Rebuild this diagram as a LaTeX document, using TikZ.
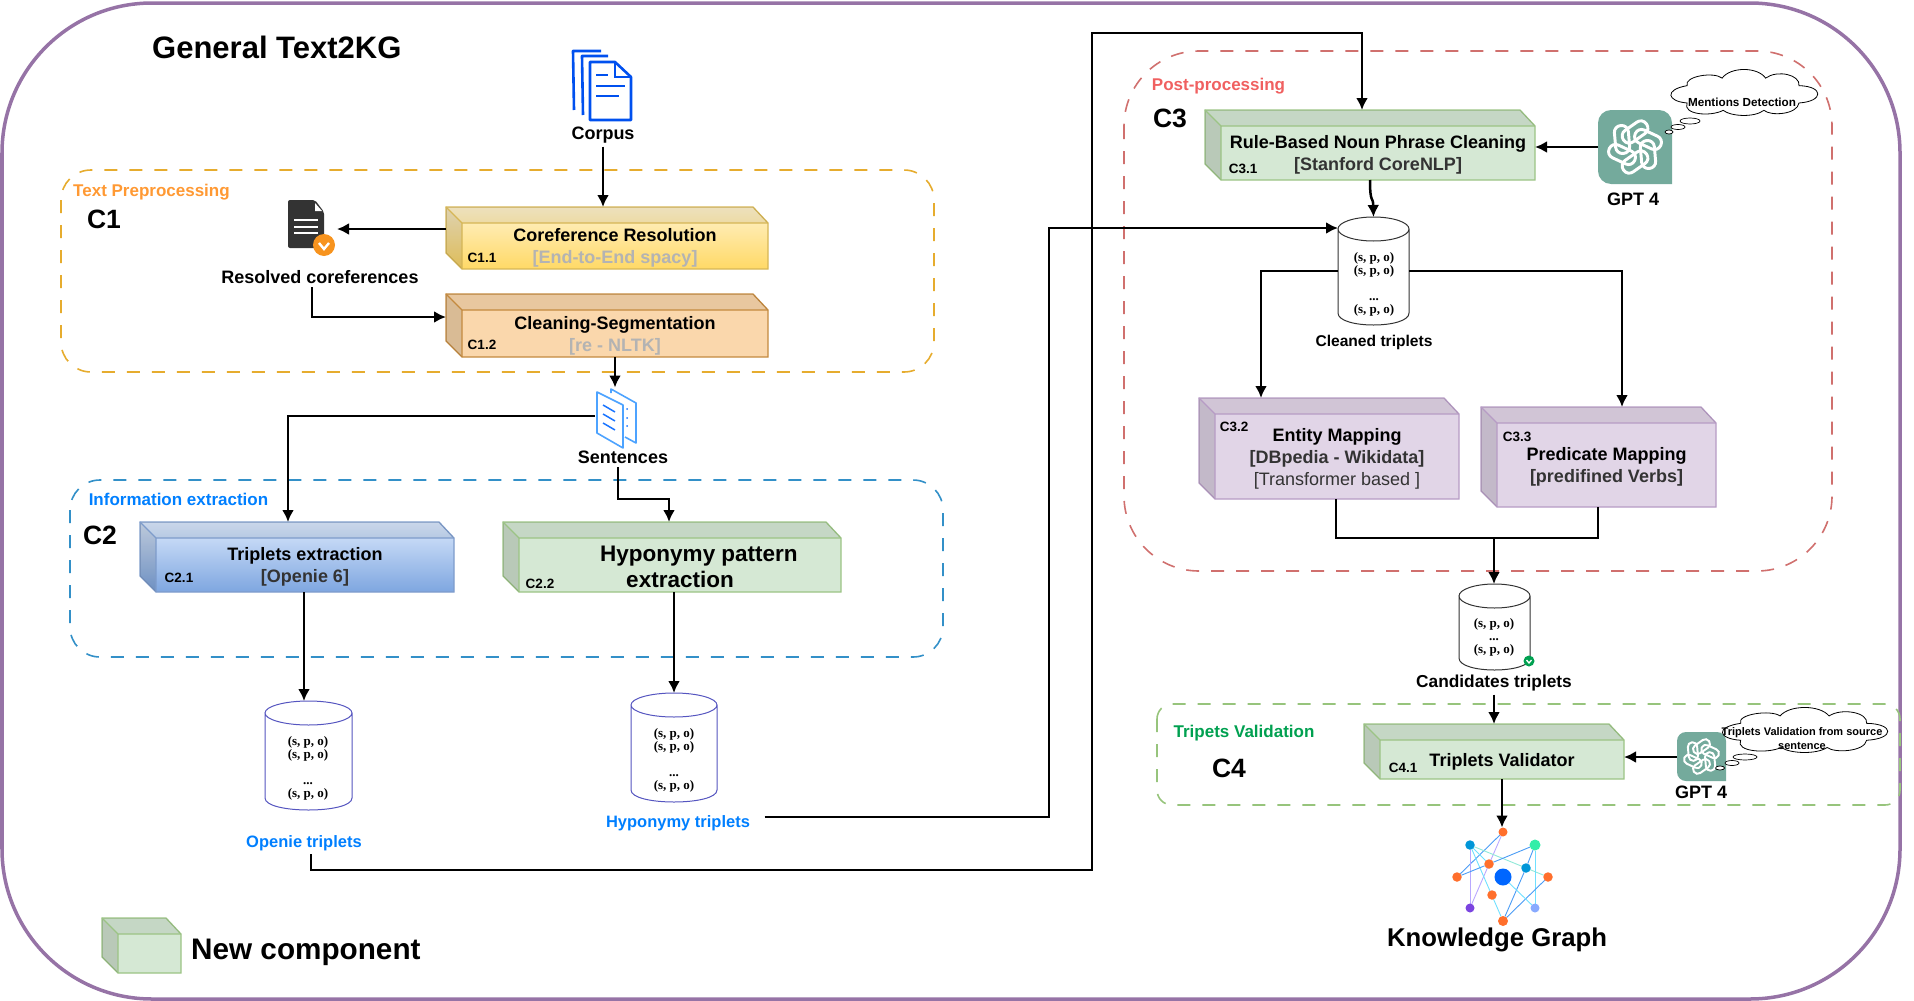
\documentclass[tikz,border=0pt]{standalone}
\usepackage{fontspec}
\setmainfont{Liberation Sans}
\newfontfamily\spofont{Liberation Serif}
\usepackage{xcolor}
\usepackage{tikz}
\usetikzlibrary{calc,arrows.meta,backgrounds}

\definecolor{outerline}{HTML}{9673A6}
\definecolor{yelline}{HTML}{D6B656}
\definecolor{orgline}{HTML}{C48A3F}
\definecolor{bluline}{HTML}{7E9CCB}
\definecolor{grnline}{HTML}{9CC485}
\definecolor{purline}{HTML}{B79CC5}
\definecolor{yeltop}{HTML}{FFF2CC}
\definecolor{yelbot}{HTML}{FFD966}
\definecolor{orgfill}{HTML}{FAD7AC}
\definecolor{blutop}{HTML}{DAE8FC}
\definecolor{blubot}{HTML}{7EA6E0}
\definecolor{grnfill}{HTML}{D5E8D4}
\definecolor{purfill}{HTML}{E1D5E7}
\definecolor{greytxt}{HTML}{B3B3B3}
\definecolor{darktxt}{HTML}{333333}
\definecolor{gptgreen}{HTML}{74AA9C}
\definecolor{docblue}{HTML}{0050EF}
\definecolor{sentblue}{HTML}{4DA3FF}
\definecolor{sentline}{HTML}{1A75FF}
\definecolor{cylblue}{HTML}{5555C0}
\definecolor{grpA}{HTML}{E6AC2E}
\definecolor{grpB}{HTML}{3390C8}
\definecolor{grpC}{HTML}{D0706E}
\definecolor{grpD}{HTML}{97C47C}
\definecolor{txtA}{HTML}{FF9933}
\definecolor{txtB}{HTML}{007FFF}
\definecolor{txtC}{HTML}{F06060}
\definecolor{txtD}{HTML}{00A050}
\definecolor{orgmark}{HTML}{F7931E}
\definecolor{kblue}{HTML}{4A9CF5}
\definecolor{kpur}{HTML}{B8A8FF}
\definecolor{kcyan}{HTML}{70E0FF}
\definecolor{kaqua}{HTML}{90E8D8}
\definecolor{korg}{HTML}{FF6F2C}
\definecolor{ksky}{HTML}{0096D8}
\definecolor{kmint}{HTML}{33EEA8}
\definecolor{kdeep}{HTML}{0066FF}
\definecolor{kviol}{HTML}{7B44E0}
\definecolor{kpale}{HTML}{88AAFF}

\tikzset{
  cubeyel/.style={top color=yeltop,bottom color=yelbot,draw=yelline},
  cubeorg/.style={fill=orgfill,draw=orgline},
  cubeblu/.style={top color=blutop,bottom color=blubot,draw=bluline},
  cubegrn/.style={fill=grnfill,draw=grnline},
  cubepur/.style={fill=purfill,draw=purline},
  cubetxt/.style={inner sep=0pt,align=center,yshift=-2pt,font=\bfseries\fontsize{18}{22}\selectfont},
  lab/.style={font=\bfseries\fontsize{18}{22}\selectfont},
  tag/.style={inner sep=0pt,font=\bfseries\fontsize{13.5}{15}\selectfont},
  part/.style={inner sep=0pt,font=\bfseries\fontsize{26.5}{30}\selectfont},
  grouplab/.style={inner sep=0pt,font=\bfseries\fontsize{17}{20}\selectfont},
  group/.style={line width=1.6pt,dash pattern=on 13pt off 12pt},
  spo/.style={inner sep=0pt,align=center,font=\spofont\bfseries\fontsize{13}{13}\selectfont},
  conn/.style={-{Latex[length=12pt,width=12pt]},line width=2.5pt},
  link/.style={line width=.9pt},
  knot/.style={circle,inner sep=0pt,outer sep=0pt}
}

\newcommand{\cubebox}[7]{%
  \path[cube#6,line width=1.3pt] (#2,#3)--(#4-15,#3)--(#4,#3+16)--(#4,#5)--(#2+16,#5)--(#2,#5-16)--cycle;
  \fill[black,opacity=.07] (#2,#3)--(#4-15,#3)--(#4,#3+16)--(#2+16,#3+16)--cycle;
  \fill[black,opacity=.13] (#2,#3)--(#2+16,#3+16)--(#2+16,#5)--(#2,#5-16)--cycle;
  \draw[#6line,line width=1.3pt] (#2,#3)--(#2+16,#3+16)--(#4,#3+16) (#2+16,#3+16)--(#2+16,#5);
  \node[inner sep=0pt,outer sep=0pt,minimum width={#4-#2},minimum height={#5-#3}] (#1) at ({(#2+#4)/2},{(#3+#5)/2}) {};
  \node[cubetxt] (#1f) at ({(#2+16+#4)/2},{(#3+16+#5)/2}) {#7};
}

\newcommand{\gptbox}[6]{%
  \fill[gptgreen] (#2,{(#3+#5)/2}) [rounded corners=#6] --(#2,#3)--(#4,#3)--(#4,{(#3+#5)/2}) [sharp corners] --(#4,#5) [rounded corners=#6] --(#2,#5)--cycle;
  \node[inner sep=0pt,outer sep=0pt,minimum width={#4-#2},minimum height={#5-#3}] (#1) at ({(#2+#4)/2},{(#3+#5)/2}) {};
  \foreach \a in {0,60,...,300}
   {\begin{scope}[shift={(#1.center)},rotate=\a,scale={(#4-#2)/74},shift={(0,-15)},rotate=35]
    \draw[white,line width={.04*(#4-#2)},rounded corners={.09*(#4-#2)}] (-14,-7)--(14,-7)--(14,7)--(-14,7)--cycle;
    \end{scope}
   };
}

\newcommand{\thought}[4]{%
  \begin{scope}[shift={(#1,#2)},x=#3pt,y=-#4pt]
  \draw[fill=white,line width=.8pt] (.133,.708) .. controls (0,.674) and (-.02,.43) .. (.133,.347)
    .. controls (.11,.153) and (.31,.05) .. (.365,.19)
    .. controls (.42,-.05) and (.6,-.05) .. (.653,.19)
    .. controls (.73,.01) and (.885,.12) .. (.874,.347)
    .. controls (1.04,.36) and (1.04,.674) .. (.874,.708)
    .. controls (.863,.95) and (.686,.986) .. (.642,.861)
    .. controls (.575,1.02) and (.42,.986) .. (.372,.861)
    .. controls (.288,1) and (.1,.95) .. (.133,.708)--cycle;
  \end{scope}
}

\newcommand{\tripledb}[6]{%
  \draw[#6,fill=white,line width=1pt] (#2-#4/2,#3-#5/2+12)--(#2-#4/2,#3+#5/2-12) .. controls (#2-#4/2,#3+#5/2+4) and (#2+#4/2,#3+#5/2+4) .. (#2+#4/2,#3+#5/2-12)--(#2+#4/2,#3-#5/2+12)
    (#2,#3-#5/2+12) ellipse ({#4/2} and 12);
  \node[inner sep=0pt,outer sep=0pt,minimum width=#4 pt,minimum height=#5 pt] (#1) at (#2,#3) {};
}

\begin{document}
\begin{tikzpicture}[x=1pt,y=-1pt]
\useasboundingbox (0,0) rectangle (1914,1001);
\draw[outerline,line width=3.5pt,rounded corners=150pt] (2,3) rectangle (1900,999);
\node[anchor=west,inner sep=0pt,font=\bfseries\fontsize{31}{34}\selectfont] (title) at (152,47) {General Text2KG};

% groups
\draw[group,draw=grpA,rounded corners=30pt] (61,170) rectangle (934,372);
\draw[group,draw=grpB,rounded corners=30pt] (70,480) rectangle (943,657);
\draw[group,draw=grpC,rounded corners=75pt] (1124,51) rectangle (1832,571);
\draw[group,draw=grpD,rounded corners=15pt] (1157,704) rectangle (1900,805);
\node[grouplab,text=txtA] (labA) at (151.5,192.5) {Text Preprocessing};
\node[grouplab,text=txtB] (labB) at (178.5,499) {Information extraction};
\node[grouplab,text=txtC] (labC) at (1218.5,86) {Post-processing};
\node[grouplab,text=txtD] (labD) at (1244,733) {Tripets Validation};
\node[part] (partA) at (104,219) {C1};
\node[part] (partB) at (100,535) {C2};
\node[part] (partC) at (1170,118) {C3};
\node[part] (partD) at (1229,768) {C4};

% corpus icon
\draw[docblue,line width=2.6pt,line join=round] (574,110)--(573,51)--(601,51);
\draw[docblue,line width=2.6pt,line join=round] (583,115)--(582,56)--(608,56);
\draw[docblue,line width=2.6pt,line join=round,fill=white] (590,62)--(615,62)--(631,77)--(631,120)--(590,120)--cycle;
\draw[docblue,line width=2.2pt] (615,62)--(615,77)--(631,77) (596,75)--(608,75) (596,86)--(625,86) (596,96)--(619,96);
\node[lab] (corpus) at (603,135) {Corpus};

\cubebox{c11}{446}{207}{768}{269}{yel}{Coreference Resolution\\{\color{greytxt}[End-to-End spacy]}}
\cubebox{c12}{446}{294}{768}{357}{org}{Cleaning-Segmentation\\{\color{greytxt}[re - NLTK]}}
\node[tag] (t11) at (482,258) {C1.1};
\node[tag] (t12) at (482,345) {C1.2};

% resolved document
\node[inner sep=0pt,outer sep=0pt,minimum width=49pt,minimum height=56pt] (docres) at (312.5,228) {};
\fill[darktxt,rounded corners=2pt] (288,200)--(315,200)--(324,212)--(324,248)--(288,248)--cycle;
\fill[white] (315,203)--(322,211)--(315,211)--cycle;
\draw[white,line width=2.4pt] (294,220)--(318,220) (294,227)--(318,227) (294,233)--(318,233);
\fill[orgmark] (324,245) circle (11pt);
\draw[white,line width=2.4pt] (319,243)--(324,249)--(329,243);
\node[lab] (reslab) at (320,277) {Resolved coreferences};

% sentences icon
\draw[sentblue,line width=1.6pt,line join=round] (611,393)--(611,389)--(636,403)--(636,443)--(625,437);
\draw[sentblue,line width=1.6pt,line join=round,fill=white] (597,392)--(623,405)--(623,448)--(597,433)--cycle;
\draw[sentline,line width=1.5pt] (603,405)--(615,412) (603,414)--(615,421) (603,423)--(615,430);
\foreach \y in {409,418,426}
 {\fill[sentline] (627,\y) circle (1pt);
 };
\node[inner sep=0pt,outer sep=0pt,minimum width=42pt,minimum height=57pt] (sentences) at (616,416) {};
\node[lab] (sentlab) at (623,457) {Sentences};

\cubebox{c21}{140}{522}{454}{592}{blu}{Triplets extraction\\{\color{darktxt}[Openie 6]}}
\cubebox{c22}{503}{522}{841}{592}{grn}{\fontsize{22.5}{26}\selectfont\hspace*{38pt}Hyponymy pattern\\[4pt]\fontsize{22.5}{26}\selectfont extraction}
\node[tag] (t21) at (179,578) {C2.1};
\node[tag] (t22) at (540,584) {C2.2};

\tripledb{cylA}{308.5}{755.5}{87}{109}{cylblue}
\tripledb{cylB}{674}{747.5}{86}{109}{cylblue}
\node[spo] (spoA) at (308,768.5) {(s, p, o)\\(s, p, o)\\ \\...\\(s, p, o)};
\node[spo] (spoB) at (674,760.5) {(s, p, o)\\(s, p, o)\\ \\...\\(s, p, o)};
\node[lab,font=\bfseries\fontsize{16.5}{20}\selectfont,text=txtB] (openlab) at (304,843) {Openie triplets};
\node[lab,font=\bfseries\fontsize{16.5}{20}\selectfont,text=txtB] (hyplab) at (678,823) {Hyponymy triplets};

\cubebox{c31}{1205}{110}{1535}{180}{grn}{Rule-Based Noun Phrase Cleaning\\{\color{darktxt}[Stanford CoreNLP]}}
\node[tag] (t31) at (1243,169) {C3.1};
\gptbox{gptA}{1598}{110}{1672}{184}{13pt}
\node[lab] (gptlabA) at (1633,199) {GPT 4};
\thought{1667}{69}{151}{48}
\node[inner sep=0pt,font=\bfseries\fontsize{11.7}{14}\selectfont] (cloudA) at (1742,102) {Mentions Detection};
\draw[fill=white,line width=.7pt] (1690,121) ellipse (10 and 3) (1678,127) ellipse (7 and 2.5) (1669,132) ellipse (4 and 2);

\tripledb{cleaned}{1373.5}{271}{71}{108}{darktxt}
\node[spo] (spoC) at (1374,284) {(s, p, o)\\(s, p, o)\\ \\...\\(s, p, o)};
\node[lab,font=\bfseries\fontsize{15.6}{18}\selectfont] (cleanlab) at (1374,342) {Cleaned triplets};

\cubebox{c32}{1199}{398}{1459}{499}{pur}{Entity Mapping\\{\color{darktxt}[DBpedia - Wikidata]}\\{\color{darktxt}\mdseries [Transformer based ]}}
\cubebox{c33}{1481}{407}{1716}{507}{pur}{Predicate Mapping\\{\color{darktxt}[predifined Verbs]}}
\node[tag] (t32) at (1234,427) {C3.2};
\node[tag] (t33) at (1517,437) {C3.3};

\tripledb{candidates}{1494.5}{627}{71}{86}{darktxt}
\node[spo] (spoD) at (1494,637.5) {(s, p, o)\\...\\(s, p, o)};
\node[circle,inner sep=0pt,minimum size=11pt,fill=txtD] (okmark) at (1529,661) {};
\draw[white,line width=1.3pt] (1526.5,660)--(1529,663)--(1531.5,660);
\node[lab,font=\bfseries\fontsize{17.3}{20}\selectfont] (candlab) at (1494,683) {Candidates triplets};

\cubebox{c41}{1364}{724}{1624}{779}{grn}{Triplets Validator}
\node[tag] (t41) at (1403,768) {C4.1};
\gptbox{gptB}{1677}{732}{1726}{781}{9pt}
\node[lab] (gptlabB) at (1701,792) {GPT 4};
\thought{1718}{707}{170}{47}
\node[inner sep=0pt,align=center,font=\bfseries\fontsize{11}{14.5}\selectfont] (cloudB) at (1802,738.5) {Triplets Validation from source\\sentence};
\draw[fill=white,line width=.7pt] (1745,757) ellipse (12 and 3) (1732,763) ellipse (7 and 2.5) (1720,768) ellipse (4.5 and 2);

% knowledge graph
\foreach \n/\x/\y/\c/\r in {1/1503/832/korg/9,2/1470/845/ksky/9.5,3/1535/845/kmint/11,4/1489/864/korg/9.5,
  5/1526/868/ksky/9.5,6/1457/877/korg/9.5,7/1503/877/kdeep/17,8/1548/877/korg/9.5,9/1492/895/korg/9.5,
  10/1470/908/kviol/9,11/1535/908/kpale/9,12/1503/921/korg/10}
 {\node[knot,fill=\c,minimum size=\r pt] (n\n) at (\x,\y) {};
 };
\begin{scope}[on background layer]
\foreach \a/\b/\c in {1/6/kblue,1/10/kpur,2/10/kpur,2/4/kcyan,2/12/kcyan,2/8/kaqua,6/4/kblue,4/3/kblue,3/5/kblue,
  3/11/kcyan,5/12/kblue,8/12/kblue,7/11/kcyan}
 {\draw[link,draw=\c] (n\a)--(n\b);
 };
\end{scope}
\node[inner sep=0pt,font=\bfseries\fontsize{25.7}{30}\selectfont] (kglab) at (1497,940) {Knowledge Graph};

% legend
\cubebox{legend}{102}{918}{181}{973}{grn}{}
\node[anchor=west,inner sep=0pt,font=\bfseries\fontsize{29.7}{34}\selectfont] (legendlab) at (191,952) {New component};

% connectors
\draw[conn] (603,0 |- corpus.south)--(603,0 |- c11.north);
\draw[conn] (c11.west |- 0,229)--(docres.east |- 0,229);
\draw[conn] (312,0 |- reslab.south) |- (c12.west |- 0,317);
\draw[conn] (615,0 |- c12.south)--(615,0 |- sentences.north);
\draw[conn] (sentences.west) -| (288,0 |- c21.north);
\draw[conn] (618,0 |- sentlab.south)--(618,499) -| (669,0 |- c22.north);
\draw[conn] (304,0 |- c21.south)--(304,0 |- cylA.north);
\draw[conn] (674,0 |- c22.south)--(cylB.north);
\draw[conn] (311,0 |- openlab.south) |- (1092,870)--(1092,33)--(1362,33)--(1362,0 |- c31.north);
\draw[conn] ([xshift=11pt,yshift=6pt]hyplab.east) -| (1049,228)--(cleaned.west |- 0,228);
\draw[conn] (gptA.west)--(c31.east |- gptA.west);
\draw[conn] (1370,0 |- c31.south) .. controls (1370,205) and (1373,195) .. (cleaned.north);
\draw[conn] (cleaned.west) -| (1261,0 |- c32.north);
\draw[conn] (cleaned.east) -| (1622,0 |- c33.north);
\coordinate (merge) at (1494,538);
\draw[line width=2.5pt] (1336,0 |- c32.south) |- (merge);
\draw[line width=2.5pt] (1598,0 |- c33.south) |- (merge);
\draw[conn] (merge)--(1494,0 |- candidates.north);
\draw[conn] (1494,0 |- candlab.south)--(1494,0 |- c41.north);
\draw[conn] (gptB.west |- 0,757)--(c41.east |- 0,757);
\draw[conn] (1502,0 |- c41.south)--(1502,0 |- n1.north);
\end{tikzpicture}
\end{document}
